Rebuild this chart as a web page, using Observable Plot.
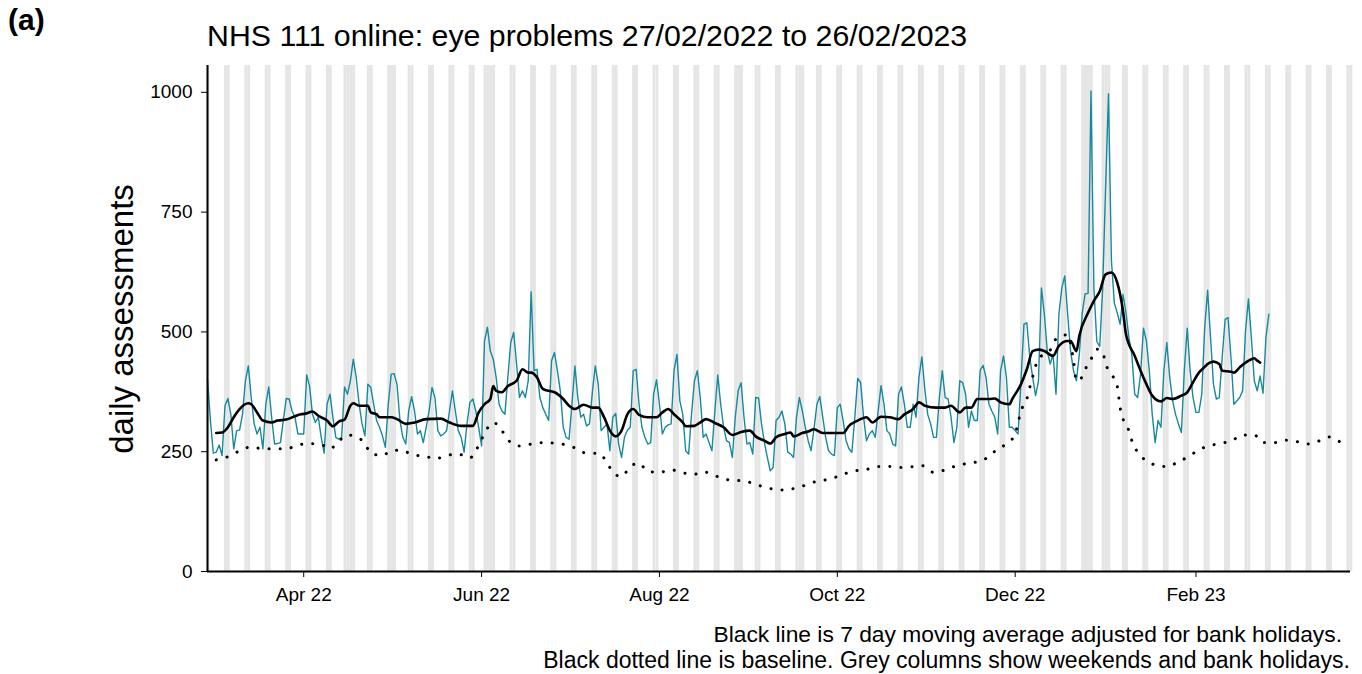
<!DOCTYPE html>
<html><head><meta charset="utf-8">
<script src="https://cdn.jsdelivr.net/npm/d3@7"></script>
<script src="https://cdn.jsdelivr.net/npm/@observablehq/plot@0.6"></script>
<style>
html,body{margin:0;padding:0;background:#fff;}
#chart{position:relative;width:1362px;height:674px;}
svg{font-family:"Liberation Sans",Arial,sans-serif;}
</style>
</head><body><div id="chart"></div>
<script>
// ---------------- data ----------------
const startDate = "2022-02-27";   // day 0
const endDate = "2023-03-26";     // end of x domain (day 392)
const titleText = "NHS 111 online: eye problems 27/02/2022 to 26/02/2023";
const panelTag = "(a)";
const yLabel = "daily assessments";
const captionLines = ["Black line is 7 day moving average adjusted for bank holidays.",
  "Black dotted line is baseline. Grey columns show weekends and bank holidays."];
const xTickDates = ["2022-04-01","2022-06-01","2022-08-01","2022-10-01","2022-12-01","2023-02-01"];
const yTicks = [0, 250, 500, 750, 1000];
const bankHolidays = ["2022-04-15","2022-04-18","2022-05-02","2022-06-02","2022-06-03",
  "2022-08-29","2022-09-19","2022-12-26","2022-12-27","2023-01-02"];

// daily assessments, day 0 (27 Feb 2022) .. day 364 (26 Feb 2023)
const dailyValues = [
 401,
 315,247,249,264,242,346,361,
 328,256,294,295,328,398,429,
 363,308,287,301,256,349,385,
 322,266,267,269,315,361,360,
 335,322,287,287,287,410,387,
 328,311,322,280,247,349,370,
 322,280,276,280,385,370,398,
 443,405,349,308,283,391,384,
 349,315,301,283,259,349,412,
 413,390,315,280,266,335,365,
 335,287,294,269,301,335,384,
 363,294,283,287,294,335,377,
 335,294,280,249,308,353,360,
 335,301,262,481,510,460,443,
 405,349,335,328,405,478,499,
 433,363,377,363,398,584,419,
 422,363,342,328,315,440,457,
 419,377,301,280,276,349,429,
 363,322,328,304,308,375,429,
 391,294,301,308,252,322,330,
 266,238,280,295,301,419,422,
 349,301,280,266,269,370,400,
 349,287,301,306,308,419,453,
 356,328,252,245,328,398,419,
 363,280,287,269,252,335,410,
 349,301,273,269,238,322,377,
 394,322,266,269,245,363,362,
 308,269,238,210,217,315,322,
 335,308,249,245,238,322,363,
 335,301,273,252,297,349,365,
 322,280,252,245,242,342,349,
 315,273,256,249,322,403,394,
 322,273,287,294,280,335,388,
 349,294,287,266,262,370,385,
 349,301,301,349,322,405,448,
 381,328,308,280,280,363,419,
 363,360,322,269,301,398,394,
 370,301,335,315,315,420,430,
 405,349,335,322,287,419,450,
 405,301,301,294,287,398,516,
 519,447,405,367,398,592,537,
 460,433,453,370,537,592,617,
 537,460,419,398,453,540,580,
 580,1003,590,480,470,590,800,
 997,650,560,540,516,578,540,
 488,453,370,363,412,508,481,
 419,328,269,315,301,419,478,
 405,356,328,308,290,419,508,
 419,363,332,332,370,509,587,
 488,391,360,363,447,526,530,
 447,349,356,363,377,502,569,
 488,398,377,408,372,488,537
];

// 7 day moving average (adjusted), read at these day offsets
const maDays = [3,5,7,9,11,14,15,17,19,22,24,27,30,32,34,36,38,41,43,45,47,49,50,52,55,56,58,59,61,63,65,68,71,75,80,83,87,91,93,95,97,98,99,101,103,106,108,110,111,113,115,117,119,122,124,126,129,132,134,136,138,140,142,144,146,148,151,154,156,158,160,163,164,167,169,171,174,177,180,183,186,188,191,193,195,198,200,201,204,206,208,211,214,218,220,223,226,228,231,234,237,239,242,244,246,250,253,255,258,260,262,264,268,270,272,275,276,279,281,283,285,287,290,292,295,296,298,299,302,304,306,308,310,312,314,315,318,320,322,324,327,329,331,334,336,338,340,342,343,345,347,348,351,352,354,356,358,359,360,361];
const maValues = [289,290,301,322,339,351,349,332,315,311,315,317,324,328,330,334,325,315,303,313,317,346,351,346,346,332,328,322,322,322,318,308,311,318,319,311,304,304,332,349,360,387,377,374,387,398,422,415,415,405,381,377,374,360,346,339,348,342,342,322,294,282,294,328,339,327,322,322,332,339,328,311,303,304,311,318,310,301,285,291,294,282,273,267,280,287,290,282,289,292,297,289,289,289,304,315,322,311,323,322,318,328,339,353,346,342,342,346,332,342,342,360,360,361,353,349,360,391,422,460,463,460,450,471,481,481,460,492,540,565,585,620,624,603,543,495,450,419,391,367,355,362,360,367,374,395,415,427,433,438,433,419,417,415,426,436,443,445,440,436];

// baseline, read at these day offsets
const baseDays = [3,8,11,15,19,23,27,31,35,39,42,45,48,50,54,56,60,63,66,71,75,78,82,86,90,92,94,96,98,101,103,107,111,115,119,123,126,130,134,137,139,142,145,148,151,155,159,163,167,170,174,178,182,186,190,194,197,200,204,207,211,215,219,222,226,230,234,238,242,245,249,253,257,261,265,268,271,274,277,278,279,281,282,283,284,286,289,291,295,297,298,299,301,303,305,307,308,310,312,313,314,316,317,319,322,326,329,333,337,340,344,348,351,355,359,362,366,370,373,377,381,385,389,391];
const baseValues = [233,242,252,260,256,256,256,264,267,265,256,272,285,283,267,247,242,252,253,243,240,235,242,245,237,252,276,299,311,294,275,262,266,269,268,264,258,247,247,228,207,198,219,226,209,207,212,206,203,208,200,192,190,186,178,172,170,172,178,185,190,196,205,210,213,219,219,217,219,221,207,212,221,226,230,240,256,266,287,311,335,360,384,406,429,450,462,485,494,440,399,399,422,443,464,458,434,412,387,342,318,294,273,249,231,221,219,229,242,254,263,268,272,285,285,269,269,274,272,266,272,281,269,266];

// ---------------- build ----------------
const DAY = 864e5;
const t0 = Date.parse(startDate);
const dayDate = d => new Date(t0 + d * DAY);
const nDays = Math.round((Date.parse(endDate) - t0) / DAY);

const dailyData = dailyValues.map((v, i) => ({date: dayDate(i), value: v}));
const maData = maDays.map((d, i) => ({date: dayDate(d), value: maValues[i]}));
const baseData = baseDays.map((d, i) => ({date: dayDate(d), value: baseValues[i]}));

const greyDays = [];
for (let i = 0; i <= nDays; i++) {
  const dt = dayDate(i);
  const wd = dt.getUTCDay();
  const iso = dt.toISOString().slice(0, 10);
  if (wd === 0 || wd === 6 || bankHolidays.includes(iso)) greyDays.push(i);
}

const yMax = 1056;
const fontFam = '"Liberation Sans", Arial, sans-serif';

const chart = Plot.plot({
  width: 1362, height: 674,
  marginLeft: 207, marginRight: 12, marginTop: 65, marginBottom: 103,
  style: {fontFamily: fontFam, color: "black", background: "white", overflow: "visible"},
  x: {type: "utc", domain: [new Date(t0), new Date(Date.parse(endDate))]},
  y: {domain: [0, yMax]},
  marks: [
    Plot.rect(greyDays, {x1: d => dayDate(d - 0.2), x2: d => dayDate(d + 0.8), y1: 0, y2: yMax, fill: "#e5e5e5"}),
    Plot.line(dailyData, {x: "date", y: "value", stroke: "#17899d", strokeWidth: 1.4}),
    Plot.line(baseData, {x: "date", y: "value", stroke: "black", strokeWidth: 3, strokeDasharray: "0.1,11", strokeLinecap: "round", curve: "monotone-x"}),
    Plot.line(maData, {x: "date", y: "value", stroke: "black", strokeWidth: 2.6, curve: "monotone-x"}),
    Plot.ruleY([0], {stroke: "black", strokeWidth: 2}),
    Plot.ruleX([new Date(t0)], {stroke: "black", strokeWidth: 2}),
    Plot.axisY({ticks: yTicks, tickSize: 6, tickPadding: 9, fontSize: 19, label: null, tickFormat: d => String(d)}),
    Plot.axisX({ticks: xTickDates.map(s => new Date(s)), tickFormat: d3.utcFormat("%b %y"), tickSize: 6, tickPadding: 10, fontSize: 19, label: null})
  ]
});

const svg = d3.select(chart);
svg.append("text").attr("x", 8).attr("y", 30).attr("text-anchor", "start").attr("font-family", fontFam)
  .attr("font-size", 30).attr("font-weight", "bold").attr("fill", "black").text(panelTag);
svg.append("text").attr("x", 207).attr("y", 46).attr("text-anchor", "start").attr("font-family", fontFam)
  .attr("font-size", 30.3).attr("fill", "black").text(titleText);
svg.append("text").attr("transform", "translate(133,319) rotate(-90)").attr("text-anchor", "middle")
  .attr("font-family", fontFam).attr("font-size", 33).attr("fill", "black").text(yLabel);
svg.append("text").attr("x", 1342).attr("y", 642).attr("text-anchor", "end").attr("font-family", fontFam)
  .attr("font-size", 22.8).attr("fill", "black").text(captionLines[0]);
svg.append("text").attr("x", 1350).attr("y", 668).attr("text-anchor", "end").attr("font-family", fontFam)
  .attr("font-size", 23).attr("fill", "black").text(captionLines[1]);

document.getElementById("chart").appendChild(chart);
</script>
</body></html>
